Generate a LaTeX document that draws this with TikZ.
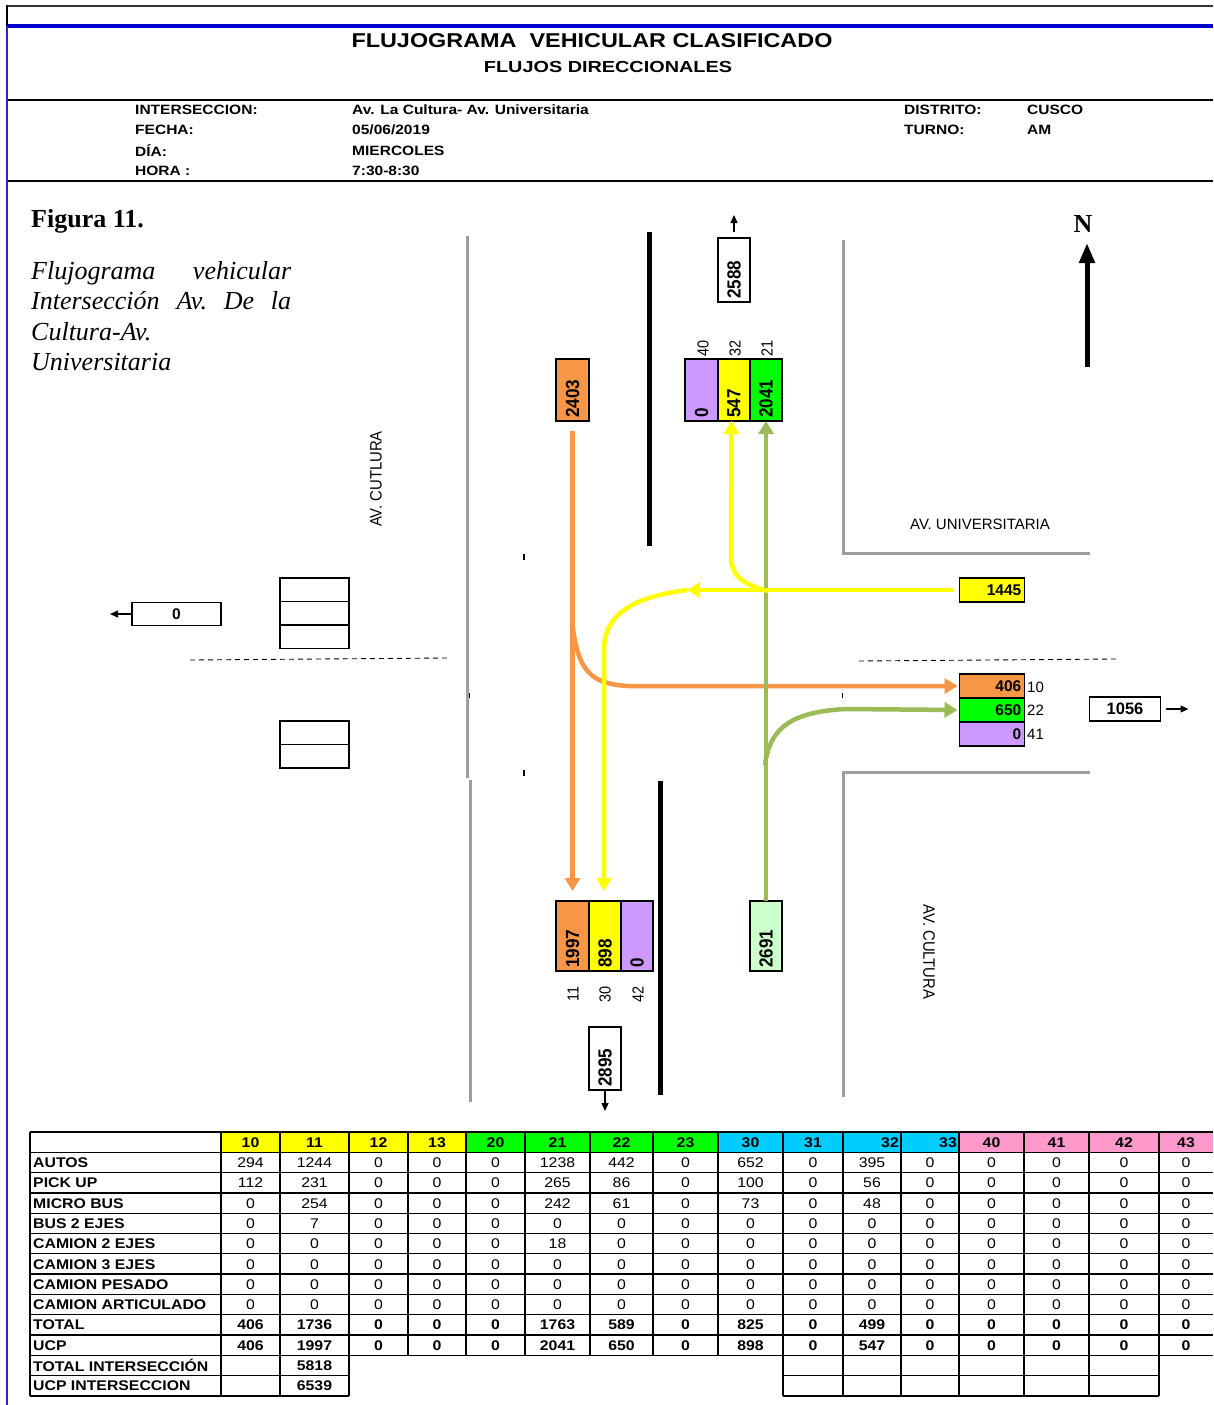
\documentclass[tikz,border=0pt]{standalone}
\usepackage{fontspec}
\setmainfont{Liberation Serif}
\newfontfamily\arial{Liberation Sans}
\newfontfamily\arialT[FakeStretch=1.17]{Liberation Sans}
\newfontfamily\arialS[FakeStretch=1.24]{Liberation Sans}
\newfontfamily\arialH[FakeStretch=1.15]{Liberation Sans}
\newfontfamily\arialTb[FakeStretch=1.13]{Liberation Sans}
\newfontfamily\arialR[FakeStretch=0.9]{Liberation Sans}
\usetikzlibrary{arrows.meta}
\definecolor{orng}{HTML}{F79646}
\definecolor{ylw}{HTML}{FFFF00}
\definecolor{grn}{HTML}{00FF00}
\definecolor{prp}{HTML}{CC99FF}
\definecolor{lgrn}{HTML}{CCFFCC}
\definecolor{olive}{HTML}{9BBB59}
\definecolor{cyn}{HTML}{00CCFF}
\definecolor{pnk}{HTML}{FF99CC}
\definecolor{frameblue}{HTML}{0000CC}
\tikzset{
 road/.style={line width=3pt, draw=black!38},
 median/.style={line width=5pt, draw=black},
 bx/.style={draw, line width=1.6pt, inner sep=0pt, outer sep=0pt},
 flow/.style={line width=4.5pt, -{Triangle[length=13pt,width=15pt]}},
 sarr/.style={line width=1.2pt, -{Triangle[length=8pt,width=7pt]}},
 tline/.style={line width=1.3pt},
 hdr/.style={font=\arialH\bfseries\fontsize{13.5}{16}\selectfont, anchor=west, inner sep=0pt},
 tnum/.style={font=\arialTb\fontsize{14}{16}\selectfont, inner sep=0pt},
 tbold/.style={font=\arialTb\bfseries\fontsize{14}{16}\selectfont, inner sep=0pt},
 tlab/.style={font=\arialTb\bfseries\fontsize{14}{16}\selectfont, inner sep=0pt, anchor=west},
 rnum/.style={font=\arialR\bfseries\fontsize{19}{20}\selectfont, inner sep=0pt, rotate=90, anchor=west},
 rlab/.style={font=\arialR\fontsize{16}{18}\selectfont, inner sep=0pt, rotate=90},
 hnum/.style={font=\arial\bfseries\fontsize{15.5}{17}\selectfont, inner sep=0pt, anchor=east},
 hlab/.style={font=\arial\fontsize{15}{17}\selectfont, inner sep=0pt, anchor=west},
 roadname/.style={font=\arialR\fontsize{16.5}{18}\selectfont, inner sep=0pt},
 capt/.style={font=\itshape\fontsize{26}{30}\selectfont\frenchspacing, anchor=base west, inner sep=0pt},
}
\def\colx{{250.5,314.5,378.5,437,495.5,557.5,621.5,685.5,750.5,813,872,930,991.5,1056.5,1124,1186}}
\begin{document}
\begin{tikzpicture}[x=1pt,y=-1pt]
\useasboundingbox[fill=white] (0,0) rectangle (1213,1405);

% ---------- frame ----------
\draw[line width=2pt, black!80] (7,6) -- (1213,6);
\draw[line width=4.5pt, frameblue] (7,26) -- (1213,26);
\draw[line width=2.5pt] (7,100) -- (1213,100);
\draw[line width=2.5pt] (7,181) -- (1213,181);
\draw[line width=1.5pt] (7,5) -- (7,26);
\draw[line width=1.8pt, frameblue!85] (7,26) -- (7,1405);

% ---------- header ----------
\node[font=\arialT\bfseries\fontsize{20}{24}\selectfont] (title) at (592,41) {FLUJOGRAMA\ \ VEHICULAR CLASIFICADO};
\node[font=\arialS\bfseries\fontsize{16}{19}\selectfont] (subtitle) at (608,67) {FLUJOS DIRECCIONALES};
\node[hdr] (h1) at (135,110) {INTERSECCION:};
\node[hdr] (h2) at (135,130) {FECHA:};
\node[hdr] (h3) at (135,151) {DÍA:};
\node[hdr] (h4) at (135,171) {HORA :};
\node[hdr] (v1) at (352,110) {Av. La Cultura- Av. Universitaria};
\node[hdr] (v2) at (352,130) {05/06/2019};
\node[hdr] (v3) at (352,151) {MIERCOLES};
\node[hdr] (v4) at (352,171) {7:30-8:30};
\node[hdr] (h5) at (904,110) {DISTRITO:};
\node[hdr] (h6) at (904,130) {TURNO:};
\node[hdr] (v5) at (1027,110) {CUSCO};
\node[hdr] (v6) at (1027,130) {AM};

% ---------- caption ----------
\node[font=\bfseries\fontsize{26}{30}\selectfont, anchor=base west, inner sep=0pt] (fig) at (31,227) {Figura 11.};
\node[capt] (c1) at (31,279) {\makebox[260pt][s]{Flujograma vehicular}};
\node[capt] (c2) at (31,309) {\makebox[260pt][s]{Intersección Av. De la}};
\node[capt] (c3) at (31,340) {Cultura-Av.};
\node[capt] (c4) at (31,370) {Universitaria};

% ---------- north ----------
\node[font=\bfseries\fontsize{26}{30}\selectfont, inner sep=0pt] (north) at (1083,224) {N};
\coordinate (nbase) at (1087,367);
\coordinate (ntip) at (1087,243);
\draw[line width=5pt, -{Triangle[length=20pt,width=15pt]}] (nbase) -- (ntip);

% ---------- roads ----------
\draw[road] (467,236) -- (467,778);
\draw[road] (470,780) -- (470,1102);
\draw[road] (843,240) -- (843,553) -- (1090,553);
\draw[road] (1090,772) -- (843,772) -- (843,1097);
\draw[median] (649,232) -- (649,546);
\draw[median] (660,781) -- (660,1095);
\draw[line width=0.9pt, dash pattern=on 5pt off 4pt] (190,660) -- (447,658);
\draw[line width=0.9pt, dash pattern=on 5pt off 4pt] (859,661) -- (1116,659);
\draw[line width=1.5pt] (524,554) -- (524,560);
\draw[line width=1.5pt] (524,770) -- (524,776);
\draw[line width=1pt] (469,693) -- (469,698);
\draw[line width=1pt] (842,693) -- (842,698);

\node[roadname, rotate=90] (avc1) at (376,479) {AV. CUTLURA};
\node[roadname, rotate=-90] (avc2) at (929,952) {AV. CULTURA};
\node[font=\arial\fontsize{15}{17}\selectfont, inner sep=0pt] (avu) at (980,524) {AV. UNIVERSITARIA};

% ---------- boxes ----------
\node[bx, minimum width=32pt, minimum height=64pt] (n2588) at (734,270) {};
\node[bx, fill=orng, minimum width=33pt, minimum height=62pt] (b2403) at (572.5,390) {};
\node[bx, fill=prp, minimum width=33pt, minimum height=62pt] (n0) at (701.5,390) {};
\node[bx, fill=ylw, minimum width=32pt, minimum height=62pt] (n547) at (734,390) {};
\node[bx, fill=grn, minimum width=32pt, minimum height=62pt] (n2041) at (766,390) {};
\node[bx, fill=orng, minimum width=33pt, minimum height=70pt] (s1997) at (572.5,936) {};
\node[bx, fill=ylw, minimum width=32pt, minimum height=70pt] (s898) at (605,936) {};
\node[bx, fill=prp, minimum width=32pt, minimum height=70pt] (s0) at (637,936) {};
\node[bx, fill=lgrn, minimum width=32pt, minimum height=70pt] (s2691) at (766,936) {};
\node[bx, minimum width=32pt, minimum height=63pt] (s2895) at (605,1058.5) {};
\node[bx, fill=ylw, minimum width=65pt, minimum height=24pt] (e1445) at (992,590) {};
\node[bx, fill=orng, minimum width=65pt, minimum height=24pt] (e406) at (992,686) {};
\node[bx, fill=grn, minimum width=65pt, minimum height=24pt] (e650) at (992,710) {};
\node[bx, fill=prp, minimum width=65pt, minimum height=24pt] (e0) at (992,734) {};
\node[bx, minimum width=71pt, minimum height=24pt] (e1056) at (1125,709) {};
\node[bx, minimum width=89pt, minimum height=23pt] (w0) at (176.5,614) {};
\node[bx, minimum width=69pt, minimum height=23.5pt] (wa) at (314.5,589.75) {};
\node[bx, minimum width=69pt, minimum height=23.5pt] (wb) at (314.5,613.25) {};
\node[bx, minimum width=69pt, minimum height=23.5pt] (wc) at (314.5,636.75) {};
\node[bx, minimum width=69pt, minimum height=23.5pt] (wd) at (314.5,732.75) {};
\node[bx, minimum width=69pt, minimum height=23.5pt] (we) at (314.5,756.25) {};

% ---------- flows ----------
\coordinate (oBr) at (572.5,625);
\coordinate (oH) at (628,686);
\draw[flow, orng] ([yshift=-10pt]b2403.south) -- ([yshift=10pt]s1997.north);
\draw[flow, orng] (oBr) .. controls (578,670) and (590,684) .. (oH) -- ([xshift=-2pt]e406.west);

\coordinate (gBr) at (765,765);
\coordinate (gH) at (845,709);
\draw[flow, olive] (s2691.north) -- (n2041.south);
\draw[flow, olive] (gBr) .. controls (770,725) and (795,712) .. (gH) -- ([xshift=-2pt]e650.west);

\coordinate (yTip) at (687,590);
\coordinate (yV) at (604,648);
\coordinate (yR) at (768,591);
\coordinate (yU) at (731,555);
\draw[flow, ylw] ([xshift=-7pt]e1445.west) -- (yTip);
\draw[flow, ylw] (yTip) .. controls (632,597) and (605,615) .. (yV) -- ([yshift=10pt,xshift=-1pt]s898.north);
\draw[flow, ylw] (yR) .. controls (738,583) and (731,573) .. (yU) -- ([xshift=-2.5pt]n547.south);

% ---------- small arrows ----------
\draw[sarr] ([yshift=6pt]n2588.north) -- ([yshift=23pt]n2588.north);
\draw[sarr] (s2895.south) -- ([yshift=-21pt]s2895.south);
\draw[sarr] ([xshift=5pt]e1056.east) -- ([xshift=28pt]e1056.east);
\draw[sarr] (w0.west) -- ([xshift=-22pt]w0.west);

% ---------- box texts ----------
\node[rnum] (t2588) at ([yshift=3pt]n2588.south) {2588};
\node[rnum] (t2403) at ([yshift=3pt]b2403.south) {2403};
\node[rnum] (tn0) at ([yshift=3pt]n0.south) {0};
\node[rnum] (tn547) at ([yshift=3pt]n547.south) {547};
\node[rnum] (tn2041) at ([yshift=3pt]n2041.south) {2041};
\node[rnum] (ts1997) at ([yshift=3pt]s1997.south) {1997};
\node[rnum] (ts898) at ([yshift=3pt]s898.south) {898};
\node[rnum] (ts0) at ([yshift=3pt]s0.south) {0};
\node[rnum] (ts2691) at ([yshift=3pt]s2691.south) {2691};
\node[rnum] (ts2895) at ([yshift=3pt]s2895.south) {2895};
\node[rlab] (l40) at (703,348) {40};
\node[rlab] (l32) at (735,348) {32};
\node[rlab] (l21) at (767,348) {21};
\node[rlab] (l11) at (573,994) {11};
\node[rlab] (l30) at (605,994) {30};
\node[rlab] (l42) at (638,994) {42};
\node[hnum] (t1445) at ([xshift=-3pt]e1445.east) {1445};
\node[hnum] (t406) at ([xshift=-3pt]e406.east) {406};
\node[hnum] (t650) at ([xshift=-3pt]e650.east) {650};
\node[hnum] (te0) at ([xshift=-3pt]e0.east) {0};
\node[hlab] (l10) at (1027,687) {10};
\node[hlab] (l22) at (1027,710) {22};
\node[hlab] (l41) at (1027,734) {41};
\node[font=\arial\bfseries\fontsize{16.5}{18}\selectfont, inner sep=0pt] (t1056) at (e1056) {1056};
\node[font=\arial\bfseries\fontsize{15.5}{17}\selectfont, inner sep=0pt] (tw0) at (w0) {0};

% ---------- table ----------
\foreach \xa/\xb/\cl in {221/280/ylw,280/349/ylw,349/408/ylw,408/466/ylw,466/525/grn,525/590/grn,590/653/grn,653/718/grn,718/783/cyn,783/843/cyn,843/901/cyn,901/959/cyn,959/1024/pnk,1024/1089/pnk,1089/1159/pnk,1159/1213/pnk}
  \fill[\cl] (\xa,1132) rectangle (\xb,1152.3);
\foreach \k in {0,...,11} {
  \pgfmathsetmacro\yy{1132+20.3*\k}
  \draw[tline] (30,\yy) -- (1213,\yy);
}
\draw[tline] (30,1375.6) -- (349,1375.6);
\draw[tline] (30,1395.9) -- (349,1395.9);
\draw[tline] (783,1375.6) -- (1159,1375.6);
\draw[tline] (783,1395.9) -- (1159,1395.9);
\foreach \xx in {30,221,280,349,408,466,525,590,653,718,783,843,901,959,1024,1089,1159}
  \draw[tline] (\xx,1132) -- (\xx,1355.3);
\foreach \xx in {30,221,280,349,783,843,901,959,1024,1089,1159}
  \draw[tline] (\xx,1355.3) -- (\xx,1395.9);

\foreach \t/\xx/\an [count=\c] in {10/250.5/center,11/314.5/center,12/378.5/center,13/437/center,20/495.5/center,21/557.5/center,22/621.5/center,23/685.5/center,30/750.5/center,31/813/center,32/899/east,33/957/east,40/991.5/center,41/1056.5/center,42/1124/center,43/1186/center}
  \node[tbold, anchor=\an] (hd-\c) at (\xx,1142.5) {\t};

\foreach \nm [count=\r] in {AUTOS,PICK UP,MICRO BUS,BUS 2 EJES,CAMION 2 EJES,CAMION 3 EJES,CAMION PESADO,CAMION ARTICULADO,TOTAL,UCP,TOTAL INTERSECCIÓN,UCP INTERSECCION} {
  \pgfmathsetmacro\cy{1142.45+20.3*\r}
  \node[tlab] (rl-\r) at (33,\cy) {\nm};
}

\foreach \vals [count=\r] in {
 {294,1244,0,0,0,1238,442,0,652,0,395,0,0,0,0,0},
 {112,231,0,0,0,265,86,0,100,0,56,0,0,0,0,0},
 {0,254,0,0,0,242,61,0,73,0,48,0,0,0,0,0},
 {0,7,0,0,0,0,0,0,0,0,0,0,0,0,0,0},
 {0,0,0,0,0,18,0,0,0,0,0,0,0,0,0,0},
 {0,0,0,0,0,0,0,0,0,0,0,0,0,0,0,0},
 {0,0,0,0,0,0,0,0,0,0,0,0,0,0,0,0},
 {0,0,0,0,0,0,0,0,0,0,0,0,0,0,0,0}} {
  \foreach \v [count=\c] in \vals {
    \pgfmathsetmacro\cx{\colx[\c-1]}
    \pgfmathsetmacro\cy{1142.45+20.3*\r}
    \node[tnum] (t-\r-\c) at (\cx,\cy) {\v};
  }
}
\foreach \vals [count=\r from 9] in {
 {406,1736,0,0,0,1763,589,0,825,0,499,0,0,0,0,0},
 {406,1997,0,0,0,2041,650,0,898,0,547,0,0,0,0,0}} {
  \foreach \v [count=\c] in \vals {
    \pgfmathsetmacro\cx{\colx[\c-1]}
    \pgfmathsetmacro\cy{1142.45+20.3*\r}
    \node[tbold] (t-\r-\c) at (\cx,\cy) {\v};
  }
}
\node[tbold] (tot) at (314.5,1365.75) {5818};
\node[tbold] (ucp) at (314.5,1386.05) {6539};
\end{tikzpicture}
\end{document}
